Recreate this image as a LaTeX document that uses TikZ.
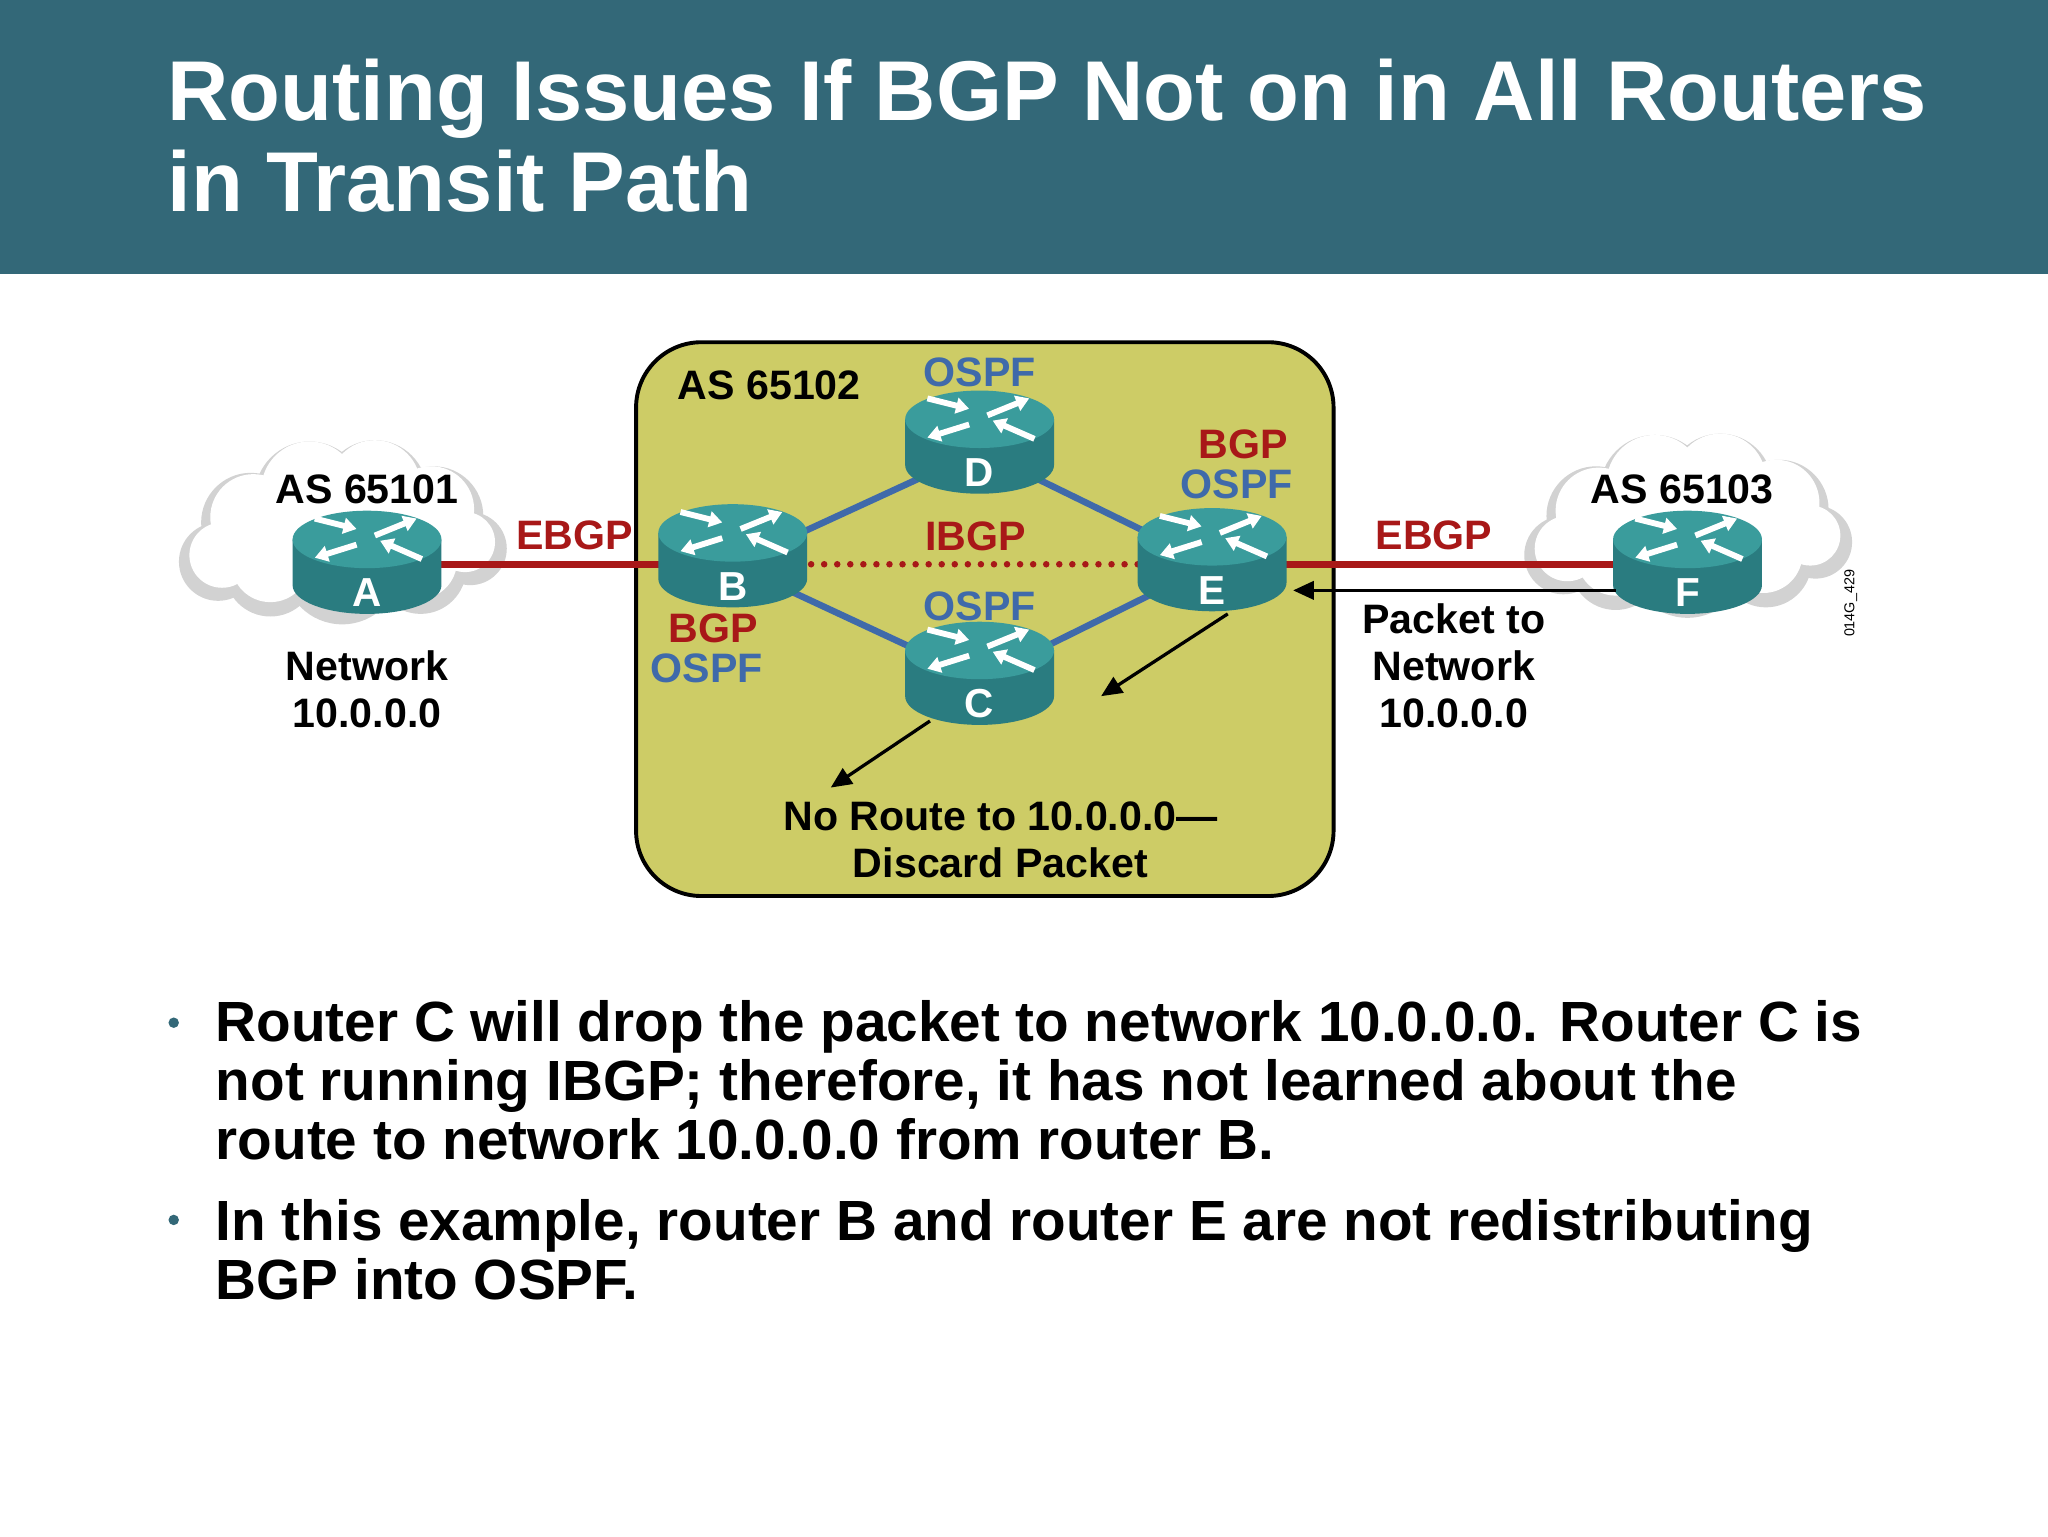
\documentclass[tikz,border=0pt]{standalone}
\usepackage{fontspec}
\setmainfont{Liberation Sans}
\usetikzlibrary{arrows.meta}
\definecolor{hdr}{HTML}{336878}
\definecolor{olive}{HTML}{CDCC66}
\definecolor{rred}{HTML}{A81818}
\definecolor{rblue}{HTML}{3F6AAA}
\definecolor{rtop}{HTML}{3A9C9C}
\definecolor{rside}{HTML}{2A7C80}
\tikzset{
 lbl/.style={font=\bfseries\fontsize{31.5}{33}\selectfont,inner sep=0pt},
 redlbl/.style={lbl,text=rred},
 bluelbl/.style={lbl,text=rblue},
 redlink/.style={rred,line width=5pt},
 bluelink/.style={rblue,line width=5pt},
 pkt/.style={black,line width=2.5pt,-{Triangle[length=16pt,width=14pt]}},
 rarr/.style={white,line width=4.5pt,-{Triangle[length=10pt,width=12pt]}},
}
\newcommand{\myrouter}[3]{%
 \begin{scope}[shift={(#1,#2)}]
  \fill[rside] (-57,-17) -- (-57,18) arc[start angle=180,end angle=0,x radius=57,y radius=22] -- (57,-17) -- cycle;
  \fill[rtop] (0,-17) ellipse[x radius=57,y radius=22];
  \draw[rarr] (-40,-33) -- (-8,-25);
  \draw[rarr] (6,-20) -- (38,-33);
  \draw[rarr] (-8,-13) -- (-40,-3);
  \draw[rarr] (42,-2) -- (10,-16);
  \node[text=white,font=\bfseries\fontsize{31}{31}\selectfont] at (0,24) {#3};
 \end{scope}}
\newcommand{\mycloud}[2]{%
 \begin{scope}[shift={(#1,#2)}]
  \foreach \a/\b/\r in {-95/15/30,-70/-15/38,-25/-35/42,25/-38/40,70/-20/38,98/5/28,60/20/35,0/18/45,-55/22/35}
   \fill[gray!35] (\a,\b) circle (\r);
  \foreach \a/\b/\r in {-92/10/25,-68/-19/33,-25/-40/37,25/-43/35,68/-25/33,94/0/23,58/14/30,0/12/40,-55/16/30}
   \fill[white] (\a,\b) circle (\r);
 \end{scope}}
\begin{document}
\begin{tikzpicture}[x=1pt,y=-1pt]
\useasboundingbox (0,0) rectangle (1568,1176);
\fill[white] (0,0) rectangle (1568,1176);
\fill[hdr] (0,0) rectangle (1568,210);
\node[anchor=west,text=white,font=\bfseries\fontsize{65}{70}\selectfont,align=left,inner sep=0pt] (title) at (128,104)
 {Routing Issues If BGP Not on in All Routers\\in Transit Path};
\draw[line width=3pt,fill=olive,rounded corners=50pt] (487,262) rectangle (1021,686);
\mycloud{262}{415}
\mycloud{1292}{410}
\coordinate (A) at (281,432);
\coordinate (B) at (561,432);
\coordinate (D) at (750,345);
\coordinate (E) at (928,432);
\coordinate (C) at (750,520);
\coordinate (F) at (1292,432);
\draw[redlink] (A) -- (B);
\draw[redlink] (E) -- (F);
\draw[rred,line width=5pt,dash pattern=on 0pt off 10pt,line cap=round] (B) -- (E);
\draw[bluelink] (B) -- (D) -- (E);
\draw[bluelink] (B) -- (C) -- (E);
\myrouter{281}{430}{A}
\myrouter{561}{425}{B}
\myrouter{750}{338}{D}
\myrouter{928}{428}{E}
\myrouter{750}{515}{C}
\myrouter{1292}{430}{F}
\node[lbl] (as1) at (281,375) {AS 65101};
\node[redlbl] (eb1) at (440,410) {EBGP};
\node[lbl] (as2) at (589,295) {AS 65102};
\node[bluelbl] (o1) at (750,285) {OSPF};
\node[redlbl] (bgpE) at (952,340) {BGP};
\node[bluelbl] (ospfE) at (947,371) {OSPF};
\node[redlbl] (ibgp) at (747,411) {IBGP};
\node[bluelbl] (o2) at (750,464) {OSPF};
\node[redlbl] (bgpB) at (546,481) {BGP};
\node[bluelbl] (ospfB) at (541,512) {OSPF};
\node[redlbl] (eb2) at (1098,410) {EBGP};
\node[lbl] (as3) at (1288,375) {AS 65103};
\node[lbl,align=center] (net) at (281,528) {Network\\[3pt]10.0.0.0};
\node[lbl,align=center] (pkt) at (1113,510) {Packet to\\[3pt]Network\\[3pt]10.0.0.0};
\node[lbl,align=center] (noroute) at (766,643) {No Route to 10.0.0.0—\\[3pt]Discard Packet};
\node[rotate=90,font=\fontsize{11}{12}\selectfont] (code) at (1417,462) {014G\_429};
\coordinate (f1) at (1237,452); \coordinate (f2) at (990,452);
\draw[pkt] (f1) -- (f2);
\coordinate (e1) at (940,470); \coordinate (e2) at (843,533);
\draw[pkt] (e1) -- (e2);
\coordinate (c1) at (712,552); \coordinate (c2) at (636,603);
\draw[pkt] (c1) -- (c2);
\fill[hdr] (133,783) circle (4);
\fill[hdr] (133,934) circle (4);
\node[anchor=north west,font=\bfseries\fontsize{43.4}{45}\selectfont,align=left,inner sep=0pt] (b1) at (165,766)
 {Router C will drop the packet to network 10.0.0.0. Router C is\\not running IBGP; therefore, it has not learned about the\\route to network 10.0.0.0 from router B.};
\node[anchor=north west,font=\bfseries\fontsize{43.4}{45}\selectfont,align=left,inner sep=0pt] (b2) at (165,918)
 {In this example, router B and router E are not redistributing\\BGP into OSPF.};
\end{tikzpicture}
\end{document}
